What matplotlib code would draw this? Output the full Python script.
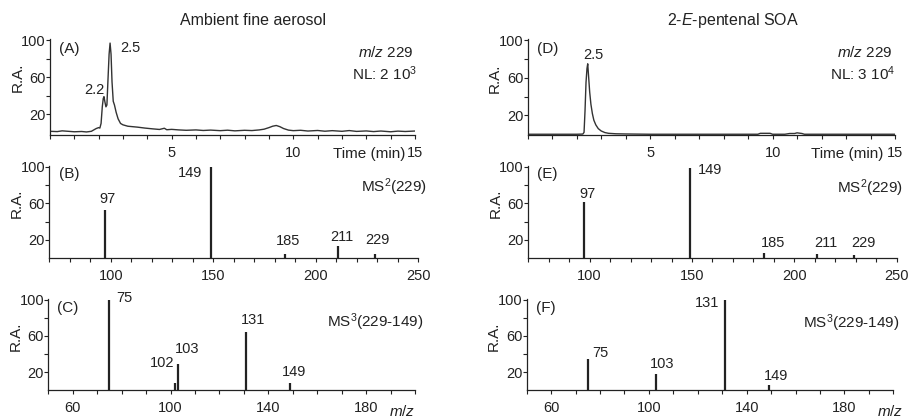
import matplotlib
matplotlib.use('Agg')
import matplotlib.pyplot as plt
import matplotlib.transforms as mtransforms
from matplotlib.ticker import FixedLocator, MultipleLocator

plt.rcParams['font.family'] = ['Liberation Sans', 'DejaVu Sans']
plt.rcParams['mathtext.fontset'] = 'custom'
plt.rcParams['mathtext.rm'] = 'Liberation Sans'
plt.rcParams['mathtext.it'] = 'Liberation Sans:italic'

INK = '#222222'

# m/z 229 chromatograms (time in min, relative abundance)
amb_time = [0.0, 0.3, 0.5, 0.8, 1.0, 1.3, 1.5, 1.7, 1.8, 1.9, 2.0, 2.05, 2.1, 2.15,
            2.19, 2.22, 2.26, 2.3, 2.34, 2.38, 2.43, 2.47, 2.51, 2.55, 2.6, 2.65,
            2.72, 2.8, 2.9, 3.0, 3.2, 3.4, 3.6, 3.9, 4.2, 4.5, 4.7, 4.8, 5.0, 5.3,
            5.6, 6.0, 6.3, 6.6, 7.0, 7.3, 7.6, 8.0, 8.3, 8.6, 8.8, 9.0, 9.15, 9.3,
            9.45, 9.6, 9.8, 10.0, 10.3, 10.6, 11.0, 11.3, 11.6, 12.0, 12.3, 12.6,
            13.0, 13.3, 13.6, 14.0, 14.3, 14.6, 15.0]
amb_ra = [1.5, 1.2, 2.0, 1.4, 1.0, 1.3, 0.8, 1.5, 3.0, 4.5, 5.5, 5.0, 10, 28,
          37, 39, 33, 28, 30, 55, 85, 97, 85, 55, 34, 30,
          22, 15, 10, 8.5, 7, 6.5, 6.0, 5.0, 4.2, 3.5, 4.8, 3.2, 3.6, 3.0,
          2.6, 3.0, 2.4, 2.8, 2.2, 2.7, 2.0, 2.6, 2.3, 3.0, 3.8, 5.5, 7.0, 7.8,
          6.5, 4.5, 2.8, 2.2, 2.6, 1.8, 2.4, 1.6, 2.2, 1.5, 2.3, 1.4,
          1.9, 1.2, 1.8, 1.0, 1.7, 1.3, 1.8]

soa_time = [0, 1, 2, 2.25, 2.3, 2.34, 2.38, 2.42, 2.45, 2.49, 2.53, 2.58, 2.64,
            2.7, 2.78, 2.88, 3.0, 3.15, 3.3, 3.6, 4, 5, 6, 7, 8, 9, 9.4, 9.5,
            9.9, 10.0, 10.5, 10.7, 10.9, 11.0, 11.2, 11.3, 12, 13, 14, 15]
soa_ra = [0, 0, 0, 0.2, 2, 25, 55, 70, 75, 60, 45, 32, 22,
          15, 10, 6, 3.5, 1.8, 1, 0.5, 0.3, 0, 0, 0, 0, 0, 0, 1,
          1, 0, 0, 0.8, 0.8, 1.5, 0.8, 0, 0, 0, 0, 0]

# MS2 (229)
ms2_amb_mz = [97, 149, 185, 211, 229]
ms2_amb_ra = [53, 100, 5, 13, 4.5]
ms2_soa_mz = [97, 149, 185, 211, 229]
ms2_soa_ra = [61, 99, 6, 4.5, 4]

# MS3 (229-149)
ms3_amb_mz = [75, 102, 103, 131, 149]
ms3_amb_ra = [100, 8, 29, 64, 8]
ms3_soa_mz = [75, 103, 131, 149]
ms3_soa_ra = [35, 17.5, 100, 5.3]

# label offsets (points) for peak numbers
ms2_amb_off = [(2, 8), (-15, -4.5), (2, 9), (2.5, 7), (1.5, 10)]
ms2_soa_off = [(2.7, 6.3), (14.6, -2), (6.8, 7), (6.6, 8.1), (6.8, 8.4)]
ms3_amb_off = [(11, 1.5), (-9.3, 14.4), (6.5, 10.8), (4.8, 8.6), (2.7, 7.6)]
ms3_soa_off = [(8.8, 4.3), (4.2, 7.2), (-13, -2.7), (5.3, 6.5)]


def style(ax, xlim, ylim, xmajor, xstep):
    ax.set_xlim(xlim)
    ax.set_ylim(ylim)
    for s in ['top', 'right']:
        ax.spines[s].set_visible(False)
    for s in ['left', 'bottom']:
        ax.spines[s].set_linewidth(0.9)
        ax.spines[s].set_color(INK)
    ax.xaxis.set_major_locator(FixedLocator(xmajor))
    ax.xaxis.set_minor_locator(MultipleLocator(xstep))
    ax.yaxis.set_major_locator(FixedLocator([20, 60, 100]))
    ax.yaxis.set_minor_locator(FixedLocator([40, 80]))
    ax.tick_params(which='both', direction='out', length=2.6, width=0.8, color=INK)
    ax.tick_params(axis='x', which='major', pad=5, labelsize=10.5, labelcolor=INK)
    ax.tick_params(axis='y', which='major', pad=0.5, labelsize=10.5, labelcolor=INK)
    ax.set_ylabel('R.A.', fontsize=11, color=INK, va='center')
    tr = mtransforms.blended_transform_factory(ax.transAxes, ax.transData)
    ax.yaxis.set_label_coords(-0.089, 60, transform=tr)


def corner(ax, txt, y=0.855):
    ax.text(0.025, y, txt, transform=ax.transAxes, fontsize=11, color=INK,
            ha='left', va='baseline')


def sticks(ax, mz, ra, offs):
    ax.vlines(mz, 0, ra, color=INK, lw=1.6)
    for m, r, o in zip(mz, ra, offs):
        ax.annotate(str(m), (m, r), xytext=o, textcoords='offset points',
                    ha='center', va='center', fontsize=10.5, color=INK)


fig = plt.figure(figsize=(9.17, 4.19), dpi=100)

ax_a = fig.add_axes([0.0545, 0.6778, 0.398, 0.2282])
ax_b = fig.add_axes([0.0538, 0.3835, 0.4024, 0.2208])
ax_c = fig.add_axes([0.0527, 0.0687, 0.3999, 0.2184])
ax_d = fig.add_axes([0.5755, 0.6778, 0.4005, 0.2282])
ax_e = fig.add_axes([0.5761, 0.3835, 0.4017, 0.2208])
ax_f = fig.add_axes([0.5744, 0.0687, 0.3998, 0.2184])

# chromatograms
for ax, t, ra, ybot in [(ax_a, amb_time, amb_ra, -2.5), (ax_d, soa_time, soa_ra, -0.8)]:
    ax.plot(t, ra, color='#333333', lw=1.0)
    style(ax, (0, 15), (ybot, 101), [5, 10, 15], 1)
    ax.text(0.975 if ax is ax_a else 0.968, -0.244, 'Time (min)',
            transform=ax.transAxes, ha='right', va='baseline', fontsize=11, color=INK)

ax_a.annotate('2.5', (2.47, 97), xytext=(14.3, -3.5), textcoords='offset points',
              ha='center', va='center', fontsize=10.5, color=INK)
ax_a.annotate('2.2', (2.22, 39), xytext=(-7.2, 4.8), textcoords='offset points',
              ha='center', va='center', fontsize=10.5, color=INK)
ax_d.annotate('2.5', (2.45, 75), xytext=(3.9, 6), textcoords='offset points',
              ha='center', va='center', fontsize=10.5, color=INK)

corner(ax_a, '(A)')
corner(ax_d, '(D)', y=0.855)
ax_a.text(0.995, 0.819, r'$\it{m/z}$ 229', transform=ax_a.transAxes,
          ha='right', va='baseline', fontsize=11, color=INK)
ax_a.text(1.005, 0.575, r'NL: 2 10$^{3}$', transform=ax_a.transAxes,
          ha='right', va='baseline', fontsize=11, color=INK)
ax_d.text(0.993, 0.819, r'$\it{m/z}$ 229', transform=ax_d.transAxes,
          ha='right', va='baseline', fontsize=11, color=INK)
ax_d.text(1.0, 0.575, r'NL: 3 10$^{4}$', transform=ax_d.transAxes,
          ha='right', va='baseline', fontsize=11, color=INK)

# MS2 spectra
style(ax_b, (70, 250), (0, 101), [100, 150, 200, 250], 10)
style(ax_e, (70, 250), (0, 101), [100, 150, 200, 250], 10)
sticks(ax_b, ms2_amb_mz, ms2_amb_ra, ms2_amb_off)
sticks(ax_e, ms2_soa_mz, ms2_soa_ra, ms2_soa_off)
corner(ax_b, '(B)', y=0.865)
corner(ax_e, '(E)', y=0.865)
ax_b.text(1.023, 0.72, r'MS$^{2}$(229)', transform=ax_b.transAxes,
          ha='right', va='baseline', fontsize=11, color=INK)
ax_e.text(1.018, 0.709, r'MS$^{2}$(229)', transform=ax_e.transAxes,
          ha='right', va='baseline', fontsize=11, color=INK)

# MS3 spectra
style(ax_c, (50, 200), (0, 101), [60, 100, 140, 180], 10)
style(ax_f, (50, 200), (0, 101), [60, 100, 140, 180], 10)
sticks(ax_c, ms3_amb_mz, ms3_amb_ra, ms3_amb_off)
sticks(ax_f, ms3_soa_mz, ms3_soa_ra, ms3_soa_off)
corner(ax_c, '(C)', y=0.858)
corner(ax_f, '(F)', y=0.858)
ax_c.text(1.023, 0.694, r'MS$^{3}$(229-149)', transform=ax_c.transAxes,
          ha='right', va='baseline', fontsize=11, color=INK)
ax_f.text(1.016, 0.676, r'MS$^{3}$(229-149)', transform=ax_f.transAxes,
          ha='right', va='baseline', fontsize=11, color=INK)
ax_c.text(1.0, -0.279, r'$\it{m/z}$', transform=ax_c.transAxes,
          ha='right', va='baseline', fontsize=11, color=INK)
ax_f.text(1.027, -0.279, r'$\it{m/z}$', transform=ax_f.transAxes,
          ha='right', va='baseline', fontsize=11, color=INK)

fig.text(253 / 917, 0.952, 'Ambient fine aerosol', ha='center', va='center',
         fontsize=11.5, color=INK)
fig.text(733 / 917, 0.952, r'2-$\it{E}$-pentenal SOA', ha='center', va='center',
         fontsize=11.5, color=INK)

fig.savefig('out.png', dpi=100)
